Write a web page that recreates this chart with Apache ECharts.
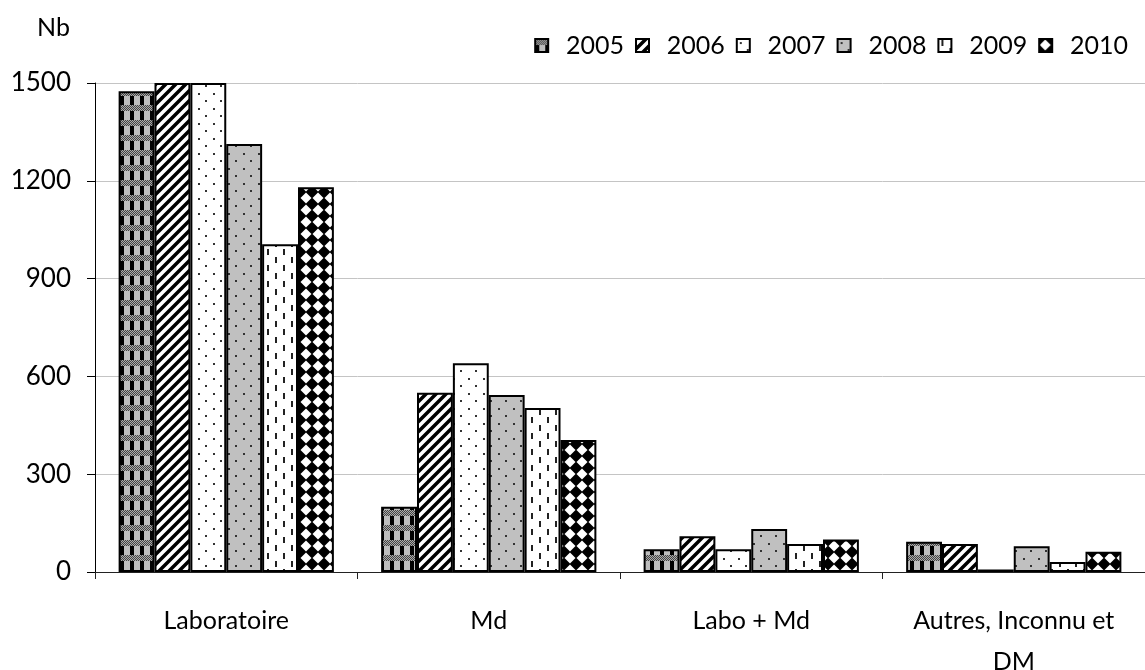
<!DOCTYPE html>
<html>
<head>
<meta charset="utf-8">
<script src="https://cdn.jsdelivr.net/npm/echarts@6/dist/echarts.min.js"></script>
<style>
  html, body { margin: 0; padding: 0; background: #fff; }
  #main { width: 1145px; height: 670px; }
</style>
</head>
<body>
<div id="main"></div>
<script>
// données
var categories = ['Laboratoire', 'Md', 'Labo + Md', 'Autres, Inconnu et\nDM'];
var years = ['2005', '2006', '2007', '2008', '2009', '2010'];
var v2005 = [1475, 200, 70, 93];
var v2006 = [1500, 550, 110, 86];
var v2007 = [1500, 640, 70, 8];
var v2008 = [1313, 543, 132, 79];
var v2009 = [1005, 503, 86, 31];
var v2010 = [1180, 405, 100, 62];
var valeurs = [v2005, v2006, v2007, v2008, v2009, v2010];

// motifs de remplissage (canvas)
function tile(w, h, draw) {
  var c = document.createElement('canvas');
  c.width = w; c.height = h;
  var ctx = c.getContext('2d');
  draw(ctx, w, h);
  return { image: c, repeat: 'repeat' };
}

var motifs = [
  // 2005 : écossais gris/noir
  tile(10, 15, function (ctx, w, h) {
    ctx.fillStyle = '#bdbdbd'; ctx.fillRect(0, 0, w, h);
    ctx.fillStyle = '#000'; ctx.fillRect(0, 0, 4, h);
    for (var y = 0; y < 6; y++) {
      for (var x = 0; x < w; x++) {
        ctx.fillStyle = (x + y) % 2 ? '#444' : '#aaa';
        ctx.fillRect(x, y, 1, 1);
      }
    }
  }),
  // 2006 : hachures diagonales
  tile(10, 10, function (ctx, w, h) {
    ctx.fillStyle = '#fff'; ctx.fillRect(0, 0, w, h);
    ctx.strokeStyle = '#000'; ctx.lineWidth = 3.5;
    ctx.beginPath();
    ctx.moveTo(-5, 5); ctx.lineTo(5, -5);
    ctx.moveTo(0, 10); ctx.lineTo(10, 0);
    ctx.moveTo(5, 15); ctx.lineTo(15, 5);
    ctx.stroke();
  }),
  // 2007 : points clairsemés
  tile(15, 15, function (ctx, w, h) {
    ctx.fillStyle = '#fff'; ctx.fillRect(0, 0, w, h);
    ctx.fillStyle = '#333';
    ctx.fillRect(3, 3, 2, 2); ctx.fillRect(10, 10, 2, 2);
  }),
  // 2008 : gris pointillé
  tile(15, 15, function (ctx, w, h) {
    ctx.fillStyle = '#c0c0c0'; ctx.fillRect(0, 0, w, h);
    ctx.fillStyle = '#333';
    ctx.fillRect(3, 3, 2, 2); ctx.fillRect(10, 10, 2, 2);
  }),
  // 2009 : tirets verticaux
  tile(16, 16, function (ctx, w, h) {
    ctx.fillStyle = '#fff'; ctx.fillRect(0, 0, w, h);
    ctx.fillStyle = '#222';
    ctx.fillRect(3, 1, 2, 6); ctx.fillRect(11, 9, 2, 6);
  }),
  // 2010 : losanges blancs sur noir
  tile(12, 12, function (ctx, w, h) {
    ctx.fillStyle = '#000'; ctx.fillRect(0, 0, w, h);
    ctx.fillStyle = '#fff';
    ctx.beginPath();
    ctx.moveTo(6, 0.5); ctx.lineTo(11.5, 6); ctx.lineTo(6, 11.5); ctx.lineTo(0.5, 6);
    ctx.closePath(); ctx.fill();
  })
];

var police = 'Lato, "Open Sans", sans-serif';
var myChart = echarts.init(document.getElementById('main'));

var series = years.map(function (y, i) {
  return {
    name: y,
    type: 'bar',
    data: valeurs[i],
    barGap: '0%',
    barCategoryGap: '18%',
    itemStyle: { color: motifs[i], borderColor: '#000', borderWidth: 2 }
  };
});

var option = {
  animation: false,
  backgroundColor: '#fff',
  textStyle: { fontFamily: police },
  title: {
    text: 'Nb', left: 32, top: 10,
    textStyle: { fontSize: 25, fontWeight: 'normal', color: '#000', fontFamily: police }
  },
  legend: {
    right: 12, top: 28,
    itemWidth: 13, itemHeight: 13, itemGap: 11,
    icon: 'rect',
    formatter: function (n) { return '  ' + n; },
    textStyle: { fontSize: 25, color: '#000', fontFamily: police },
    data: years
  },
  grid: { left: 95, right: 0, top: 83, bottom: 98, outerBoundsMode: 'none' },
  xAxis: {
    type: 'category',
    data: categories,
    axisLine: { show: true, lineStyle: { color: '#222', width: 1 } },
    axisTick: { show: true, length: 7, lineStyle: { color: '#222' } },
    axisLabel: { fontSize: 25, color: '#000', margin: 28, lineHeight: 41, fontFamily: police }
  },
  yAxis: {
    type: 'value',
    min: 0, max: 1500, interval: 300,
    axisLine: { show: true, lineStyle: { color: '#000', width: 1 } },
    axisTick: { show: true, length: 8, lineStyle: { color: '#000' } },
    axisLabel: {
      fontSize: 26, color: '#000', margin: 24, fontFamily: police,
      formatter: function (v) { return String(v); }
    },
    splitLine: { show: true, lineStyle: { color: '#c4c4c4', width: 1 } }
  },
  series: series
};

myChart.setOption(option);
</script>
</body>
</html>
